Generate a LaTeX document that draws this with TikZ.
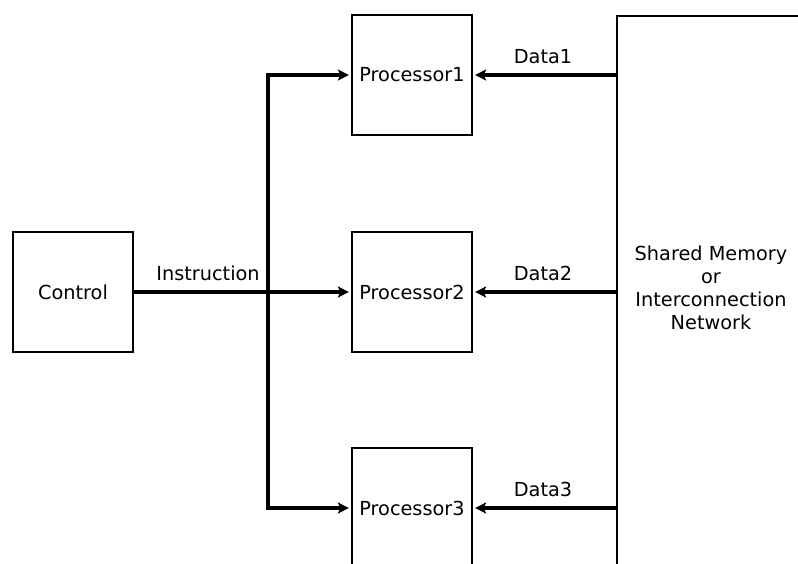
\documentclass[tikz,border=0pt]{standalone}
\usepackage{fontspec}
\setmainfont{DejaVu Sans}
\usetikzlibrary{arrows.meta}
\begin{document}
\begin{tikzpicture}[x=1pt,y=-1pt,
  box/.style={draw,line width=2.2pt,minimum width=120pt,minimum height=120pt,inner sep=0pt},
  lbl/.style={font=\fontsize{19.3}{23}\selectfont,inner sep=0pt},
  bus/.style={line width=4pt,line cap=rect},
  arr/.style={line width=4pt,shorten >=2pt,-{Stealth[length=11pt,width=11pt,inset=2.5pt]}}]
\useasboundingbox (0,0) rectangle (798,563);
\clip (0,0) rectangle (798,563);
\node[box] (ctrl) at (73,292) {};
\node[lbl] at (ctrl.center) {Control};
\node[box] (p1) at (412,75) {};
\node[lbl] at (p1.center) {Processor1};
\node[box] (p2) at (412,292) {};
\node[lbl] at (p2.center) {Processor2};
\node[box] (p3) at (412,508) {};
\node[lbl] at (p3.center) {Processor3};
\node[draw,line width=2.2pt,minimum width=240pt,minimum height=600pt,anchor=north west] (mem) at (616,15) {};
\node[lbl,align=center,font=\fontsize{19.3}{23}\selectfont] (memt) at (711,288) {Shared Memory\\or\\Interconnection\\Network};
\coordinate (j) at (268,292);
\coordinate (jt) at (268,75);
\coordinate (jb) at (268,508);
\draw[arr] (ctrl.east) -- (p2.west);
\draw[bus] (jt) -- (jb);
\draw[arr,shorten <=-2pt] (jt) -- (p1.west);
\draw[arr,shorten <=-2pt] (jb) -- (p3.west);
\coordinate (m1) at (mem.west |- p1.east);
\coordinate (m2) at (mem.west |- p2.east);
\coordinate (m3) at (mem.west |- p3.east);
\draw[arr] (m1) -- (p1.east);
\draw[arr] (m2) -- (p2.east);
\draw[arr] (m3) -- (p3.east);
\node[lbl] (il) at (208,273) {Instruction};
\node[lbl] (d1) at (543,57) {Data1};
\node[lbl] (d2) at (543,273) {Data2};
\node[lbl] (d3) at (543,489) {Data3};
\end{tikzpicture}
\end{document}
